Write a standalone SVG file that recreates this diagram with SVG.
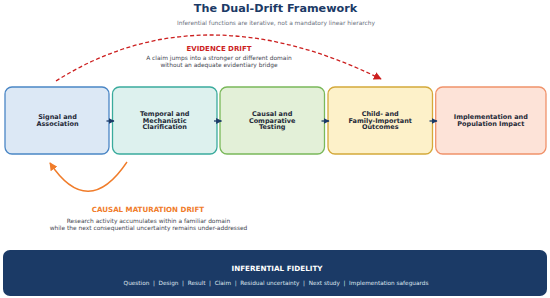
<svg xmlns="http://www.w3.org/2000/svg" width="550" height="298" viewBox="0 0 550 298">
<defs>
<style>
text{font-family:"DejaVu Sans","Liberation Sans",sans-serif;text-anchor:middle}
.title{font-size:11.2px;font-weight:bold;fill:#1b3a66}
.sub{font-size:5.9px;fill:#6b7280}
.box{stroke-width:1.3}
.lbl{font-size:6.5px;font-weight:bold;fill:#1f2937}
.desc{font-size:5.9px;fill:#3f4650}
.conn{fill:none;stroke:#1b3a66;stroke-width:1.3}
</style>
<marker id="ah" viewBox="0 0 10 10" refX="9" refY="5" markerWidth="6" markerHeight="6" orient="auto" markerUnits="userSpaceOnUse"><path d="M0,0 L10,5 L0,10 z" fill="#1b3a66"/></marker>
<marker id="ahr" viewBox="0 0 10 10" refX="9" refY="5" markerWidth="8" markerHeight="8" orient="auto" markerUnits="userSpaceOnUse"><path d="M0,0 L10,5 L0,10 z" fill="#cc1f1f"/></marker>
<marker id="aho" viewBox="0 0 10 10" refX="9" refY="5" markerWidth="8" markerHeight="8" orient="auto" markerUnits="userSpaceOnUse"><path d="M0,0 L10,5 L0,10 z" fill="#f07c2a"/></marker>
</defs>
<rect width="550" height="298" fill="#ffffff"/>
<text class="title" x="275.5" y="12">The Dual-Drift Framework</text>
<text class="sub" x="276" y="25">Inferential functions are iterative, not a mandatory linear hierarchy</text>

<g id="node-signal">
<rect class="box" x="5" y="87" width="104" height="67" rx="7" fill="#dce8f5" stroke="#4a86c5"/>
<text class="lbl" x="57.5" y="119">Signal and</text>
<text class="lbl" x="57.5" y="126">Association</text>
</g>
<g id="node-temporal">
<rect class="box" x="112.5" y="87" width="104.5" height="67" rx="7" fill="#ddf1ee" stroke="#3aab9d"/>
<text class="lbl" x="164.7" y="115.6">Temporal and</text>
<text class="lbl" x="164.7" y="122.5">Mechanistic</text>
<text class="lbl" x="164.7" y="129.4">Clarification</text>
</g>
<g id="node-causal">
<rect class="box" x="220" y="87" width="104.5" height="67" rx="7" fill="#e3f0d8" stroke="#7ab85a"/>
<text class="lbl" x="272.2" y="115.6">Causal and</text>
<text class="lbl" x="272.2" y="122.5">Comparative</text>
<text class="lbl" x="272.2" y="129.4">Testing</text>
</g>
<g id="node-child">
<rect class="box" x="328" y="87" width="104.5" height="67" rx="7" fill="#fdf1c9" stroke="#d4a93a"/>
<text class="lbl" x="380.2" y="115.6">Child- and</text>
<text class="lbl" x="380.2" y="122.5">Family-Important</text>
<text class="lbl" x="380.2" y="129.4">Outcomes</text>
</g>
<g id="node-impl">
<rect class="box" x="435.7" y="87" width="110.3" height="67" rx="7" fill="#fde3d8" stroke="#f0926a"/>
<text class="lbl" x="490.8" y="119">Implementation and</text>
<text class="lbl" x="490.8" y="126">Population Impact</text>
</g>

<g id="connectors">
<path class="conn" d="M106.5,121 H114" marker-end="url(#ah)"/>
<path class="conn" d="M214,121 H221.5" marker-end="url(#ah)"/>
<path class="conn" d="M321.5,121 H329" marker-end="url(#ah)"/>
<path class="conn" d="M429.5,121 H437" marker-end="url(#ah)"/>
<path id="evidence-arc" d="M56,81 Q200,-10 381,79" fill="none" stroke="#cc1f1f" stroke-width="1.3" stroke-dasharray="4,2.5" marker-end="url(#ahr)"/>
<path id="causal-arc" d="M127,162 Q88,220 50,163" fill="none" stroke="#f07c2a" stroke-width="1.4" marker-end="url(#aho)"/>
</g>

<g id="evidence-drift">
<text x="219" y="50.5" font-size="7" font-weight="bold" fill="#cc1f1f">EVIDENCE DRIFT</text>
<text class="desc" x="219" y="59.5">A claim jumps into a stronger or different domain</text>
<text class="desc" x="219" y="66.5">without an adequate evidentiary bridge</text>
</g>

<g id="causal-drift">
<text x="148" y="212" font-size="7.1" font-weight="bold" fill="#f07c2a">CAUSAL MATURATION DRIFT</text>
<text class="desc" x="148.5" y="223">Research activity accumulates within a familiar domain</text>
<text class="desc" x="148.5" y="230">while the next consequential uncertainty remains under-addressed</text>
</g>

<g id="fidelity">
<rect x="3" y="250" width="544" height="46" rx="7" fill="#1b3a66"/>
<text x="277" y="270.5" font-size="7.2" font-weight="bold" fill="#ffffff">INFERENTIAL FIDELITY</text>
<text x="276" y="285" font-size="5.75" fill="#dfe6f0" xml:space="preserve">Question  |  Design  |  Result  |  Claim  |  Residual uncertainty  |  Next study  |  Implementation safeguards</text>
</g>
</svg>
